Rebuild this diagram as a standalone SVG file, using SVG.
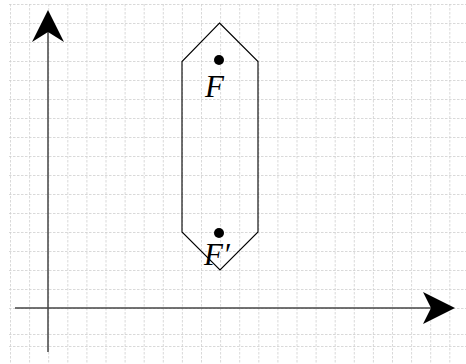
<svg xmlns="http://www.w3.org/2000/svg" width="466" height="364" viewBox="0 0 466 364">
<style>
.grid{stroke:#cfcfcf;stroke-width:0.8;stroke-dasharray:2.5,1.5;fill:none}
.axis{stroke:#444;stroke-width:1.5;fill:none}
.head{fill:#000;stroke:none}
.hex{stroke:#000;stroke-width:1.1;fill:none}
.dot{fill:#000}
.lbl{font-family:"Liberation Serif","DejaVu Serif",serif;font-style:italic;font-size:31px;fill:#000}
</style>
<rect width="466" height="364" fill="#fff"/>
<g id="grid">
<path class="grid" d="M9 4.5H466M9 23.5H466M9 42.5H466M9 61.5H466M9 80.5H466M9 99.5H466M9 118.5H466M9 137.5H466M9 156.5H466M9 175.5H466M9 194.5H466M9 213.5H466M9 232.5H466M9 251.5H466M9 270.5H466M9 289.5H466M9 308.5H466M9 334.5H466M9 346.5H466"/>
<path class="grid" d="M10.5 4V364M29.6 4V364M48.7 4V364M67.8 4V364M86.9 4V364M106 4V364M125.1 4V364M144.2 4V364M163.3 4V364M182.4 4V364M201.5 4V364M220.6 4V364M239.7 4V364M258.8 4V364M277.9 4V364M297 4V364M316.1 4V364M335.2 4V364M354.3 4V364M373.4 4V364M392.5 4V364M411.6 4V364M430.7 4V364M449.8 4V364"/>
</g>
<g id="connectors">
<line class="axis" x1="48" y1="352" x2="48" y2="30"/>
<path class="head" d="M48 10L64 42L48 32L32 42Z"/>
<line class="axis" x1="15" y1="308" x2="435" y2="308"/>
<path class="head" d="M455 308L423 324L431 308L423 292Z"/>
</g>
<g id="hexagon">
<path class="hex" d="M219.5 23L258 61.5V232L220 270L182 232V61.5Z"/>
</g>
<g id="F">
<circle class="dot" cx="219" cy="60" r="5"/>
<text class="lbl" x="205" y="97">F</text>
</g>
<g id="Fprime">
<circle class="dot" cx="219" cy="233" r="5"/>
<text class="lbl" x="204" y="265">F′</text>
</g>
</svg>
